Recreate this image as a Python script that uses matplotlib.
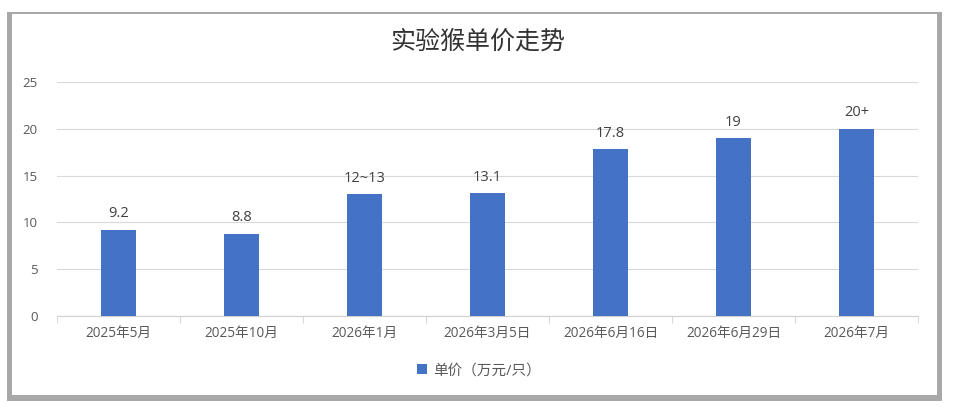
import matplotlib.pyplot as plt
from matplotlib.patches import Rectangle
import numpy as np

plt.rcParams['font.family'] = ['Open Sans', 'Noto Sans CJK SC', 'DejaVu Sans']

# data
categories = ['2025年5月', '2025年10月', '2026年1月', '2026年3月5日',
              '2026年6月16日', '2026年6月29日', '2026年7月']
prices = [9.2, 8.8, 13, 13.1, 17.8, 19, 20]
labels = ['9.2', '8.8', '12~13', '13.1', '17.8', '19', '20+']
series_name = '单价（万元/只）'

W, H = 956, 408
fig = plt.figure(figsize=(W / 100, H / 100), dpi=100)
fig.patch.set_facecolor('white')

# panel with shadow border
fig.patches.append(Rectangle((7 / W, 1 - 401 / H), 935 / W, 389 / H,
                             transform=fig.transFigure, facecolor='#a8a8a8',
                             edgecolor='none', zorder=-2))
fig.patches.append(Rectangle((12 / W, 1 - 395 / H), 925 / W, 381 / H,
                             transform=fig.transFigure, facecolor='white',
                             edgecolor='none', zorder=-1))

ax = fig.add_axes([57 / W, 1 - 316 / H, (918 - 57) / W, (316 - 82) / H])
ax.set_zorder(2)
ax.set_facecolor('none')

x = np.arange(len(categories))
bars = ax.bar(x, prices, width=0.29, color='#4472c4', zorder=3, label=series_name)

for xi, v, t in zip(x, prices, labels):
    ax.text(xi, v + 0.9, t, ha='center', va='bottom', fontsize=10.5, color='#404040')

ax.set_xlim(-0.5, len(categories) - 0.5)
ax.set_ylim(0, 25)
ax.set_yticks(range(0, 26, 5))
ax.grid(axis='y', color='#d9d9d9', linewidth=0.8, zorder=0)
ax.set_axisbelow(True)

for s in ['top', 'right', 'left']:
    ax.spines[s].set_visible(False)
ax.spines['bottom'].set_color('#d0d0d0')

ax.set_xticks(x)
ax.set_xticklabels(categories, fontsize=9.8, color='#595959')
ax.tick_params(axis='x', which='major', length=0, pad=7)
ax.set_xticks(np.arange(-0.5, len(categories)), minor=True)
ax.tick_params(axis='x', which='minor', length=5, color='#d0d0d0', direction='out')
ax.tick_params(axis='y', length=0, labelsize=9.5, labelcolor='#595959', pad=14)

fig.text(0.5, 1 - 42 / H, '实验猴单价走势', ha='center', va='center',
         fontsize=18, color='#333333', zorder=3,
         family=['Noto Sans CJK SC', 'DejaVu Sans'])

ax.legend(loc='center', bbox_to_anchor=(0.49, -0.235), frameon=False,
          fontsize=10.5, labelcolor='#595959', handlelength=0.7, handleheight=0.7,
          handletextpad=0.4)

fig.savefig('out.png', dpi=100)
